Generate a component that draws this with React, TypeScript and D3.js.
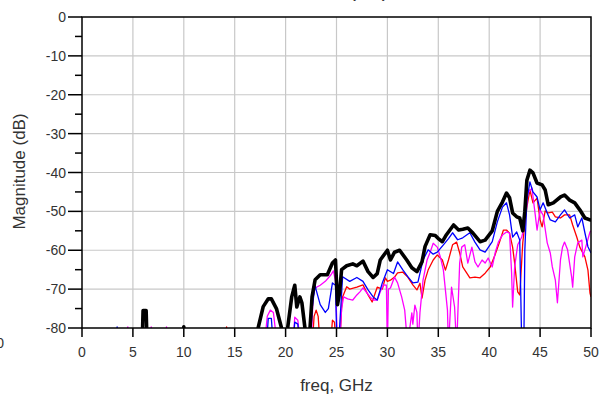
import React from "react";
import * as d3 from "d3";

const xTicks = [0, 5, 10, 15, 20, 25, 30, 35, 40, 45, 50];
const yTicks = [0, -10, -20, -30, -40, -50, -60, -70, -80];
const yMinorTicks = [-5, -15, -25, -35, -45, -55, -65, -75];

// [freq GHz, magnitude dB]; values below -80 are clipped by the plot frame
const blackSeries: [number, number][] = [
  [5.9, -85], [6.0, -75.5], [6.3, -75.5], [6.4, -85],
  [9.9, -85], [10.0, -79.7], [10.1, -85],
  [17.0, -85], [17.3, -80], [17.8, -74.5], [18.3, -72.5], [18.6, -72.5], [19.1, -75], [19.6, -80], [19.9, -85],
  [20.2, -80], [20.6, -72], [20.9, -69], [21.1, -74.6], [21.4, -72], [21.6, -73.5], [21.9, -80], [22.1, -85],
  [22.4, -80], [22.6, -72], [22.9, -67.6], [23.4, -66.3], [24.1, -66.3], [24.6, -63.3], [24.9, -62.5],
  [25.1, -74], [25.3, -71], [25.5, -65], [26.0, -64], [26.6, -63.5], [27.0, -64], [27.6, -62.8], [28.1, -65.5],
  [28.6, -67], [29.0, -66], [29.3, -62.5], [29.8, -60.7], [30.0, -60], [30.3, -62.5], [30.7, -60.5], [31.2, -60],
  [31.9, -62.5], [32.4, -64.5], [32.9, -65.5], [33.4, -63], [33.7, -59], [34.2, -56], [34.7, -56.2], [35.0, -57],
  [35.4, -57.8], [35.8, -56], [36.5, -53.5], [37.0, -54.8], [37.4, -54.6], [37.9, -54.3], [38.4, -55.6],
  [39.1, -57.8], [39.6, -57.4], [40.3, -55], [40.8, -50], [41.3, -47.6], [41.7, -45.3], [42.0, -46.5],
  [42.3, -50.4], [42.7, -51.4], [43.0, -51.7], [43.3, -55], [43.5, -50], [43.7, -42], [44.0, -39.4],
  [44.3, -40.1], [44.7, -42.7], [45.2, -43.2], [45.5, -44.5], [45.8, -48.3], [46.3, -47.8], [47.0, -46.3],
  [47.4, -45.8], [47.9, -47.1], [48.4, -47.8], [48.9, -49.6], [49.4, -51.7], [49.9, -52.2], [50, -52.2],
];

const blueSeries: [number, number][] = [
  [3.3, -85], [3.45, -79.7], [3.6, -85],
  [18.1, -85], [18.3, -77.5], [18.6, -77.5], [18.8, -85],
  [20.7, -85], [20.9, -78.5], [21.2, -79], [21.4, -85],
  [22.4, -85], [22.6, -75], [22.9, -69], [23.0, -70.2], [23.4, -74], [23.9, -76], [24.2, -75], [24.6, -68.4],
  [24.9, -69], [25.05, -85], [25.3, -80], [25.6, -66.8], [26.3, -68], [27.0, -67], [27.6, -68], [28.1, -70.2],
  [28.6, -72], [29.0, -72.8], [29.5, -68.4], [30.0, -65], [30.6, -66], [31.0, -63], [31.5, -65], [32.0, -66.8],
  [32.5, -68.4], [33.0, -68.2], [33.5, -62.5], [34.0, -59.9], [34.5, -61], [34.9, -60.5], [35.5, -58.6],
  [36.0, -57], [36.4, -55.5], [36.9, -57.3], [37.4, -56.8], [38.1, -55.5], [38.6, -57.9], [39.1, -59.9],
  [39.6, -60.5], [40.3, -57.8], [40.8, -52.7], [41.3, -48.9], [41.7, -47.8], [42.0, -50.9], [42.3, -56.6],
  [42.7, -55.3], [43.0, -57.4], [43.2, -85], [43.4, -85], [43.5, -60], [43.7, -47.1], [44.0, -42.4],
  [44.3, -45], [44.7, -46.3], [45.0, -49.6], [45.3, -47.8], [45.7, -50.4], [46.0, -52.2], [46.5, -52.7],
  [47.0, -50.9], [47.4, -49.6], [47.9, -51.7], [48.4, -50.9], [48.7, -54], [49.1, -51.7], [49.4, -55.5],
  [49.7, -59.1], [50, -60.7],
];

const redSeries: [number, number][] = [
  [14.0, -85], [14.2, -79.7], [14.4, -85],
  [22.6, -85], [22.8, -77], [23.0, -75.4], [23.2, -77], [23.4, -85],
  [24.4, -85], [24.6, -78], [24.8, -78.5], [25.0, -85],
  [25.3, -85], [25.5, -75], [25.6, -72], [26.0, -69.4], [26.3, -70], [27.0, -69.5], [27.6, -68.9],
  [28.1, -71.5], [28.5, -73.3], [29.0, -69.5], [29.5, -70], [29.8, -67.1], [30.0, -68], [30.3, -67.7],
  [30.7, -66.9], [31.0, -65.8], [31.5, -65.6], [32.0, -66.9], [32.5, -68.9], [32.9, -70.2], [33.2, -68.5],
  [33.4, -72.3], [33.7, -67.7], [34.0, -65.1], [34.5, -62.5], [34.9, -61.2], [35.4, -62.5], [35.7, -65.1],
  [36.0, -62.5], [36.4, -58.6], [36.8, -57.9], [37.1, -60.7], [37.4, -64.3], [37.8, -65.9], [38.1, -67.1],
  [38.6, -66.9], [39.1, -67.1], [39.6, -65.9], [40.1, -64.3], [40.6, -61], [41.0, -58], [41.4, -54.8],
  [41.7, -54.8], [42.0, -55.6], [42.3, -59.2], [42.5, -63.3], [42.8, -70.7], [43.0, -71.5], [43.3, -58],
  [43.7, -48.9], [44.0, -44.5], [44.3, -47.8], [44.7, -46.6], [45.0, -52.2], [45.2, -54], [45.5, -49.9],
  [45.8, -50.4], [46.2, -50.2], [46.5, -51.4], [47.0, -51.7], [47.4, -50.9], [47.9, -50.9], [48.2, -53.5],
  [48.6, -56.6], [48.9, -59.2], [49.4, -61.7], [49.7, -65.1], [49.9, -71], [50, -72],
];

const magentaSeries: [number, number][] = [
  [4.4, -85], [4.5, -79.7], [4.65, -85],
  [6.7, -85], [6.8, -79.7], [6.95, -85],
  [8.2, -85], [8.3, -79.7], [8.45, -85],
  [17.9, -85], [18.2, -77], [18.5, -75.4], [18.8, -76], [19.2, -85],
  [20.7, -85], [20.9, -77.2], [21.2, -78], [21.5, -85],
  [22.5, -85], [22.7, -72], [22.9, -69.7], [23.4, -69], [23.9, -68], [24.4, -66.5], [24.7, -65.3],
  [24.9, -68], [25.1, -85], [25.3, -85], [25.5, -75], [25.7, -72], [26.1, -72.5], [26.6, -72.8],
  [27.0, -71.5], [27.3, -70.7], [27.6, -69.7], [28.0, -71], [28.3, -72], [28.6, -72.8], [29.0, -72.8],
  [29.3, -70.7], [29.6, -68.9], [29.9, -69], [30.0, -85], [30.1, -70], [30.3, -69.7], [30.7, -66.9],
  [31.0, -68.4], [31.4, -72], [31.7, -75.4], [32.0, -85], [32.2, -80], [32.4, -76.1], [32.5, -79],
  [32.7, -74.1], [32.9, -76], [33.0, -85], [33.2, -76], [33.5, -67.7], [33.9, -62.5], [34.2, -60.5],
  [34.5, -58.2], [34.9, -59.2], [35.2, -61.7], [35.5, -65.1], [35.9, -75.4], [36.0, -85], [36.3, -69.5],
  [36.6, -74.6], [36.8, -85], [37.1, -63.3], [37.3, -59.2], [37.6, -58.6], [37.9, -63.3], [38.3, -59.2],
  [38.6, -63], [38.9, -64.3], [39.3, -62.5], [39.6, -63.3], [39.9, -62], [40.3, -64.3], [40.6, -60.5],
  [40.9, -57.9], [41.3, -56.1], [41.7, -55.3], [42.0, -55.6], [42.2, -65.8], [42.3, -74.6], [42.5, -64.3],
  [42.8, -58.6], [43.2, -56.6], [43.5, -53], [43.8, -45.3], [44.2, -44], [44.5, -50.4], [44.7, -54.8],
  [45.0, -49.6], [45.3, -51], [45.7, -58.1], [46.0, -60.7], [46.2, -64.3], [46.5, -67.7], [46.7, -73.5],
  [47.0, -62.5], [47.2, -59.2], [47.4, -57.9], [47.7, -59.9], [48.1, -66.9], [48.2, -69.5], [48.4, -61.7],
  [48.7, -58.1], [49.1, -57.4], [49.2, -61.7], [49.6, -58.1], [49.9, -55.3], [50, -55],
];

const W = 599;
const H = 395;
const L = 82, R = 591, T = 17, B = 328;
const FONT = "Liberation Sans, Arial, sans-serif";

export default function App() {
  const x = d3.scaleLinear().domain([0, 50]).range([L, R]);
  const y = d3.scaleLinear().domain([-80, 0]).range([B, T]);
  const line = d3
    .line<[number, number]>()
    .x((d) => x(d[0]))
    .y((d) => y(d[1]));

  const series = [
    { data: redSeries, color: "#ff0000", w: 1.3 },
    { data: magentaSeries, color: "#ff00ff", w: 1.3 },
    { data: blueSeries, color: "#0000ff", w: 1.3 },
    { data: blackSeries, color: "#000000", w: 3.6 },
  ];

  return (
    <svg
      width={W}
      height={H}
      style={{ position: "absolute", left: 0, top: 0, background: "#fff" }}
      fontFamily={FONT}
    >
      <defs>
        <clipPath id="plotClip">
          <rect x={L} y={T} width={R - L} height={B - T} />
        </clipPath>
      </defs>
      {/* grid */}
      {xTicks.slice(1, -1).map((t) => (
        <line key={"gx" + t} x1={x(t)} x2={x(t)} y1={T} y2={B} stroke="#c8c8c8" strokeWidth={1.2} />
      ))}
      {yTicks.slice(1, -1).map((t) => (
        <line key={"gy" + t} x1={L} x2={R} y1={y(t)} y2={y(t)} stroke="#c8c8c8" strokeWidth={1.2} />
      ))}
      {/* series */}
      <g clipPath="url(#plotClip)">
        {series.map((s, i) => (
          <path
            key={i}
            d={line(s.data) || ""}
            fill="none"
            stroke={s.color}
            strokeWidth={s.w}
            strokeLinejoin="round"
          />
        ))}
      </g>
      {/* frame */}
      <rect x={L} y={T} width={R - L} height={B - T} fill="none" stroke="#000" strokeWidth={1.5} />
      {/* y ticks */}
      {yTicks.map((t) => (
        <g key={"yt" + t}>
          <line x1={L - 14} x2={L} y1={y(t)} y2={y(t)} stroke="#000" strokeWidth={1.5} />
          <text x={66} y={y(t) + 5} textAnchor="end" fontSize={14} fill="#333">
            {t}
          </text>
        </g>
      ))}
      {yMinorTicks.map((t) => (
        <line key={"ym" + t} x1={L - 7} x2={L} y1={y(t)} y2={y(t)} stroke="#000" strokeWidth={1.5} />
      ))}
      {/* x ticks */}
      {xTicks.map((t) => (
        <g key={"xt" + t}>
          <line x1={x(t)} x2={x(t)} y1={B} y2={B + 9} stroke="#000" strokeWidth={1.5} />
          <text x={x(t)} y={357} textAnchor="middle" fontSize={14} fill="#333">
            {t}
          </text>
        </g>
      ))}
      {/* cut-off label at left */}
      <text x={4} y={348} textAnchor="end" fontSize={14} fill="#333">
        0
      </text>
      {/* axis titles */}
      <text x={(L + R) / 2} y={391} textAnchor="middle" fontSize={17} fill="#333">
        freq, GHz
      </text>
      <text
        transform={`translate(25, ${(110 + 233) / 2}) rotate(-90)`}
        textAnchor="middle"
        fontSize={17}
        fill="#333"
      >
        Magnitude (dB)
      </text>
      {/* title cut off at top: only the parentheses' tails show */}
      <text x={349} y={-3.5} textAnchor="start" fontSize={21} fill="#333">
        (dB)
      </text>
    </svg>
  );
}
